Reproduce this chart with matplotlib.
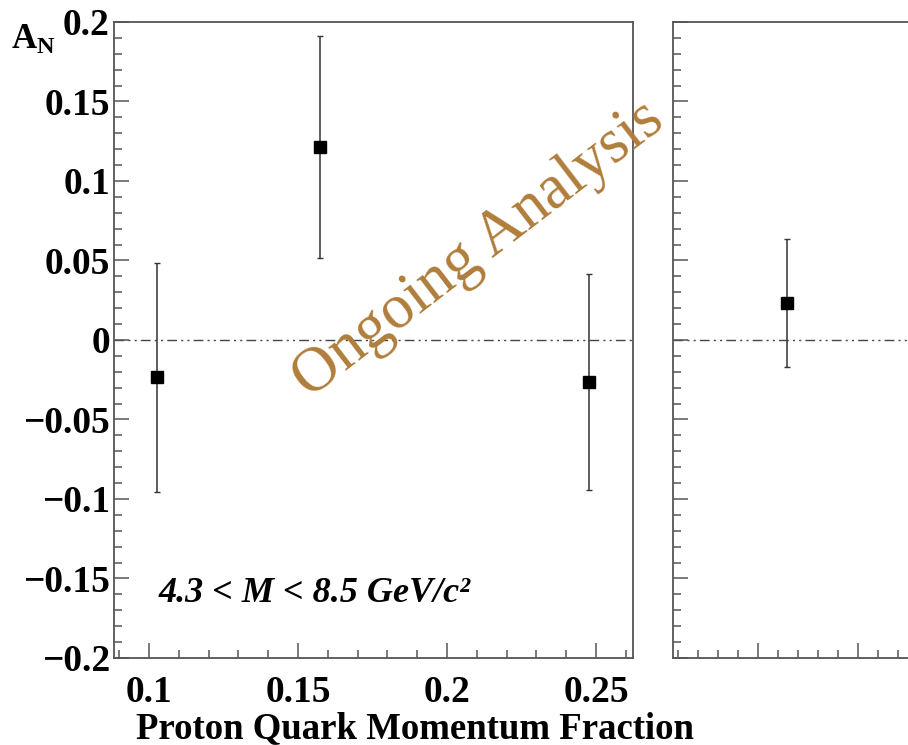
import matplotlib.pyplot as plt
from matplotlib.ticker import MultipleLocator

# Données
x_gauche = [0.1027, 0.1574, 0.2477]
an_gauche = [-0.0233, 0.1214, -0.0264]
err_gauche = [0.072, 0.070, 0.068]

x_droite = [0.229]
an_droite = [0.0233]
err_droite = [0.040]

y_ticks = [-0.2, -0.15, -0.1, -0.05, 0, 0.05, 0.1, 0.15, 0.2]
y_labels = ["\u22120.2", "\u22120.15", "\u22120.1", "\u22120.05", "0",
            "0.05", "0.1", "0.15", "0.2"]
x_ticks = [0.1, 0.15, 0.2, 0.25]
x_labels = ["0.1", "0.15", "0.2", "0.25"]

plt.rcParams['font.family'] = ['Liberation Serif', 'DejaVu Serif']
plt.rcParams['mathtext.fontset'] = 'custom'
plt.rcParams['mathtext.rm'] = 'Liberation Serif:bold'
plt.rcParams['mathtext.bf'] = 'Liberation Serif:bold'

gris = "#555555"


def style_axe(ax):
    for s in ax.spines.values():
        s.set_color(gris)
        s.set_linewidth(1.3)
    ax.tick_params(which="both", direction="in", color=gris, width=1.1,
                   top=False, right=False)
    ax.tick_params(which="major", length=11)
    ax.tick_params(which="minor", length=5.5)
    ax.yaxis.set_major_locator(MultipleLocator(0.05))
    ax.yaxis.set_minor_locator(MultipleLocator(0.01))
    ax.set_ylim(-0.2, 0.2)
    ax.axhline(0, color="#444444", lw=1.0, linestyle=(0, (7, 3, 1.5, 3, 1.5, 3)), zorder=1)


fig = plt.figure(figsize=(9.08, 7.45), dpi=100)

# Panneau de gauche
ax1 = fig.add_axes([0.1256, 0.1168, 0.5716, 0.8537])
style_axe(ax1)
ax1.errorbar(x_gauche, an_gauche, yerr=err_gauche, fmt="s", color="black",
             ecolor="#333333", elinewidth=1.1, capsize=2, markersize=8.5, zorder=3)
ax1.set_xlim(0.0883, 0.2624)
ax1.set_xticks(x_ticks)
ax1.set_xticklabels(x_labels)
ax1.xaxis.set_minor_locator(MultipleLocator(0.01))
ax1.set_yticks(y_ticks)
ax1.set_yticklabels(y_labels)
ax1.tick_params(axis="y", pad=3)
ax1.tick_params(axis="x", pad=12)
for lab in ax1.get_xticklabels() + ax1.get_yticklabels():
    lab.set_fontsize(27)
    lab.set_fontweight("bold")
ax1.text(0.085, 0.088, "4.3 < M < 8.5 GeV/c\u00b2", transform=ax1.transAxes,
         fontsize=26, fontweight="bold", style="italic", va="baseline")

# Panneau de droite (coupé par le bord de l'image)
ax2 = fig.add_axes([0.7412, 0.1168, 0.5716, 0.8537])
style_axe(ax2)
ax2.errorbar(x_droite, an_droite, yerr=err_droite, fmt="s", color="black",
             ecolor="#333333", elinewidth=1.1, capsize=2, markersize=8.5, zorder=3)
ax2.set_xlim(0.115, 0.634)
ax2.xaxis.set_major_locator(MultipleLocator(0.1))
ax2.xaxis.set_minor_locator(MultipleLocator(0.02))
ax2.tick_params(labelleft=False, labelbottom=False)

# Textes
fig.text(0.012, 0.935, r"$\mathbf{A_N}$", fontsize=25)
fig.text(0.457, 0.022, "Proton Quark Momentum Fraction", fontsize=26.5,
         fontweight="bold", ha="center", va="center")
fig.text(0.527, 0.665, "Ongoing Analysis", fontsize=45, color="#B07D3B",
         rotation=37.5, ha="center", va="center", zorder=10)

plt.savefig("out.png", dpi=100)
